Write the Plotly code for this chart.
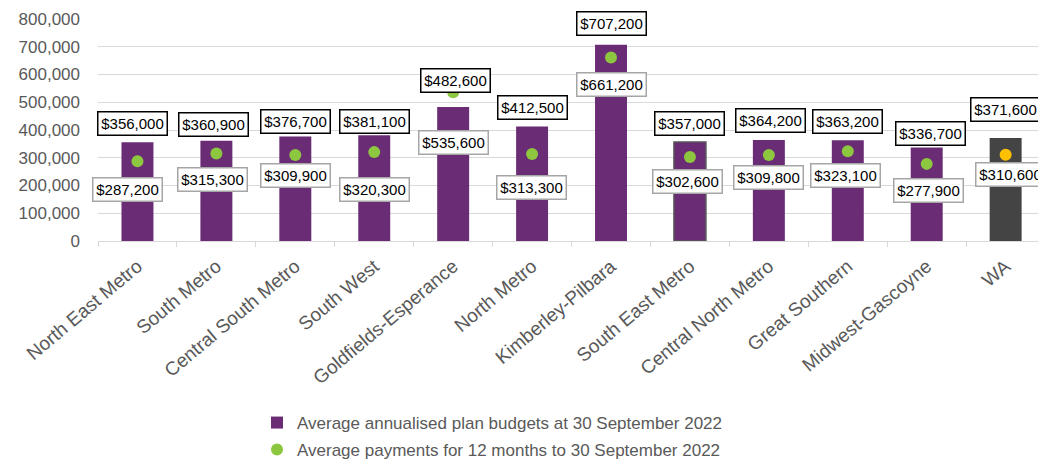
import plotly.graph_objects as go

categories = ["North East Metro", "South Metro", "Central South Metro", "South West",
              "Goldfields-Esperance", "North Metro", "Kimberley-Pilbara", "South East Metro",
              "Central North Metro", "Great Southern", "Midwest-Gascoyne", "WA"]
budgets = [356000, 360900, 376700, 381100, 482600, 412500, 707200, 357000, 364200, 363200, 336700, 371600]
payments = [287200, 315300, 309900, 320300, 535600, 313300, 661200, 302600, 309800, 323100, 277900, 310600]

# label placement offsets in pixels (layout only)
budget_label_dy = [19, 16, 15, 14, 27, 19, 21, 18, 19, 19, 14, 28]
budget_label_dx = [-5, -3, 0, 0, 2, 0, 0, 0, 2, 0, 4, 0]
payment_label_dy = [-28, -26, -20, -37, -50, -33, -27, -24, -22, -24, -27, -20]
payment_label_dx = [-10, -4, 0, 0, 0, -1, 0, -2, 0, -2, 2, 5]

PURPLE = "#6B2C76"
DARK = "#444444"
GREEN = "#8DC63F"
ORANGE = "#FFC000"
FONT = "Liberation Sans, Arial, sans-serif"

bar_colors = [DARK if c == "WA" else PURPLE for c in categories]
bar_line_colors = ["#555555" if c == "South East Metro" else "rgba(0,0,0,0)" for c in categories]
bar_line_widths = [1.5 if c == "South East Metro" else 0 for c in categories]
dot_colors = [ORANGE if c == "WA" else GREEN for c in categories]

fig = go.Figure()
fig.add_trace(go.Bar(
    x=categories, y=budgets, width=0.405,
    marker=dict(color=bar_colors, line=dict(color=bar_line_colors, width=bar_line_widths)),
    name="Average annualised plan budgets at 30 September 2022",
    legend="legend",
))
fig.add_trace(go.Scatter(
    x=categories, y=payments, mode="markers",
    marker=dict(color=dot_colors, size=12, line=dict(width=0)),
    name="Average payments for 12 months to 30 September 2022",
    legend="legend2",
))

annotations = []
for i, c in enumerate(categories):
    annotations.append(dict(
        x=c, y=budgets[i], xref="x", yref="y", text="${:,}".format(budgets[i]),
        showarrow=False, yshift=budget_label_dy[i], xshift=budget_label_dx[i],
        font=dict(family=FONT, size=15, color="#000000"),
        bgcolor="#ffffff", bordercolor="#000000", borderwidth=1.5, borderpad=2,
        width=64, height=18,
    ))
    annotations.append(dict(
        x=c, y=payments[i], xref="x", yref="y", text="${:,}".format(payments[i]),
        showarrow=False, yshift=payment_label_dy[i], xshift=payment_label_dx[i],
        font=dict(family=FONT, size=15, color="#000000"),
        bgcolor="#ffffff", bordercolor="#A6A6A6", borderwidth=1.5, borderpad=2,
        width=64, height=18,
    ))

# partly visible chart title (cut off at top in the source)
annotations.append(dict(
    x=0.454, y=1.0856, xref="paper", yref="paper", xanchor="center", yanchor="middle",
    yshift=10,
    text="<b>Average plan amounts vs supports and total plan spending (12m) ($)</b>",
    showarrow=False, font=dict(family=FONT, size=16, color="#595959"),
))

fig.update_layout(
    width=1038, height=459,
    margin=dict(l=98, r=0, t=19, b=218, autoexpand=False),
    paper_bgcolor="#ffffff", plot_bgcolor="#ffffff",
    font=dict(family=FONT, color="#595959"),
    bargap=0.5,
    annotations=annotations,
    legend=dict(x=0.2476, y=0.0784, xref="container", yref="container",
                xanchor="left", yanchor="middle",
                font=dict(family=FONT, size=17, color="#595959"), bgcolor="rgba(0,0,0,0)"),
    legend2=dict(x=0.2476, y=0.0196, xref="container", yref="container",
                 xanchor="left", yanchor="middle",
                 font=dict(family=FONT, size=17, color="#595959"), bgcolor="rgba(0,0,0,0)"),
    showlegend=True,
)
fig.update_xaxes(
    type="category", range=[-0.5, 11.41], automargin=False,
    tickangle=-40, tickfont=dict(family=FONT, size=19, color="#595959"),
    showline=True, linecolor="#D9D9D9", linewidth=1,
    ticks="outside", tickson="boundaries", ticklen=5, tickcolor="#D9D9D9",
    showgrid=False, ticklabelstandoff=6,
)
fig.update_yaxes(
    range=[0, 800000], dtick=100000, tickformat=",", automargin=False,
    tickfont=dict(family=FONT, size=17, color="#595959"),
    showgrid=True, gridcolor="#D9D9D9", gridwidth=1, zeroline=False,
    ticks="", ticklabelstandoff=17,
)

fig.write_html("out.html")
